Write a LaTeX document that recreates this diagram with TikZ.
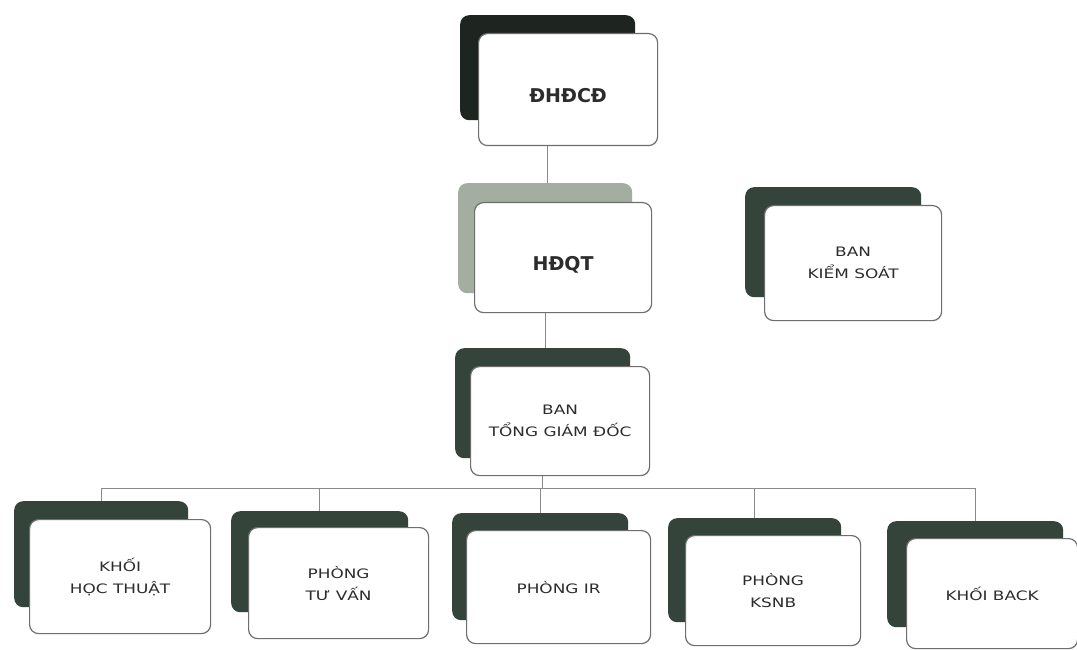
\documentclass[tikz,border=0pt]{standalone}
\usepackage{fontspec}
\setmainfont{DejaVu Sans}
\newfontfamily\boxfont[FakeStretch=1.3]{DejaVu Sans}
\newfontfamily\titlefont{DejaVu Sans}
\definecolor{bkblack}{HTML}{1E2420}
\definecolor{bkgreen}{HTML}{34443A}
\definecolor{bklight}{HTML}{A3AEA0}
\definecolor{txtgray}{HTML}{2C2C2C}
\definecolor{edgegray}{HTML}{6E6E6E}
\definecolor{linegray}{HTML}{8A8A8A}
\tikzset{
  backbox/.style={rounded corners=9pt, draw=none, fill=bkgreen, inner sep=0pt, anchor=north west},
  frontbox/.style={rounded corners=9pt, draw=edgegray, line width=1.2pt, fill=white, inner sep=0pt,
    anchor=north west, align=center, text=txtgray, font=\boxfont\fontsize{13}{22}\selectfont},
  titlebox/.style={frontbox, font=\titlefont\bfseries\fontsize{19}{22}\selectfont,
    text height=25pt, text depth=0pt},
  conn/.style={draw=linegray, line width=1pt}
}
\begin{document}
\begin{tikzpicture}[x=1pt,y=-1pt]
\useasboundingbox (0,0) rectangle (1077,650);
\fill[white] (0,0) rectangle (1077,650);

% DHDCD
\node[backbox, fill=bkblack, minimum width=175pt, minimum height=105pt] (dhb) at (460,15) {};
\node[titlebox, minimum width=179pt, minimum height=112pt] (dh) at (478,33) {ĐHĐCĐ};

% HDQT
\node[backbox, fill=bklight, minimum width=174pt, minimum height=110pt] (hdb) at (458,183) {};
\node[titlebox, minimum width=177pt, minimum height=110pt] (hd) at (474,202) {HĐQT};

% Ban kiem soat
\node[backbox, minimum width=176pt, minimum height=110pt] (ksb) at (745,187) {};
\node[frontbox, minimum width=177pt, minimum height=115pt] (ks) at (764,205) {BAN\\KIỂM SOÁT};

% Ban TGD
\node[backbox, minimum width=175pt, minimum height=110pt] (tgb) at (455,348) {};
\node[frontbox, minimum width=179pt, minimum height=109pt] (tg) at (470,366) {BAN\\TỔNG GIÁM ĐỐC};

% Bottom row
\node[backbox, minimum width=174pt, minimum height=106pt] (b1b) at (14,501) {};
\node[frontbox, minimum width=181pt, minimum height=114pt] (b1) at (29,519) {KHỐI\\HỌC THUẬT};

\node[backbox, minimum width=177pt, minimum height=101pt] (b2b) at (231,511) {};
\node[frontbox, minimum width=180pt, minimum height=111pt] (b2) at (248,527) {PHÒNG\\TƯ VẤN};

\node[backbox, minimum width=176pt, minimum height=107pt] (b3b) at (452,513) {};
\node[frontbox, minimum width=184pt, minimum height=113pt] (b3) at (466,530) {PHÒNG IR};

\node[backbox, minimum width=173pt, minimum height=104pt] (b4b) at (668,518) {};
\node[frontbox, minimum width=175pt, minimum height=110pt] (b4) at (685,535) {PHÒNG\\KSNB};

\node[backbox, minimum width=176pt, minimum height=106pt] (b5b) at (887,521) {};
\node[frontbox, minimum width=171pt, minimum height=110pt] (b5) at (906,538) {KHỐI BACK};

% connectors
\coordinate (bus) at (0,488);
\draw[conn] (dhb.center |- dh.south) -- (dhb.center |- hdb.north);
\draw[conn] (hdb.center |- hd.south) -- (hdb.center |- tgb.north);
\draw[conn] (tgb.center |- tg.south) -- (tgb.center |- bus);
\draw[conn] (b1b.north |- bus) -- (b5b.north |- bus);
\draw[conn] (b1b.north |- bus) -- (b1b.north);
\draw[conn] (b2b.north |- bus) -- (b2b.north);
\draw[conn] (b3b.north |- bus) -- (b3b.north);
\draw[conn] (b4b.north |- bus) -- (b4b.north);
\draw[conn] (b5b.north |- bus) -- (b5b.north);
\end{tikzpicture}
\end{document}
